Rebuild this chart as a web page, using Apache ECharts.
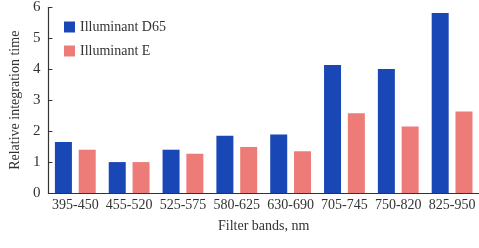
<!DOCTYPE html>
<html lang="en">
<head>
    <meta charset="UTF-8">
    <title>Relative integration time</title>
    <script src="https://cdn.jsdelivr.net/npm/echarts@6/dist/echarts.min.js"></script>
    <style>
        html, body { margin: 0; padding: 0; background: #fff; }
        #chart { width: 479px; height: 248px; }
    </style>
</head>
<body>
    <div id="chart"></div>
    <script>
        // filter bands and the two series
        const bands = ['395-450', '455-520', '525-575', '580-625', '630-690', '705-745', '750-820', '825-950'];
        const d65 = [1.65, 1.0, 1.40, 1.85, 1.89, 4.14, 4.01, 5.82];
        const illumE = [1.40, 1.0, 1.27, 1.49, 1.35, 2.58, 2.15, 2.64];
        const yTicks = [0, 1, 2, 3, 4, 5, 6];

        const font = 'Liberation Serif';
        const ink = '#333';

        const chart = echarts.init(document.getElementById('chart'));
        chart.setOption({
            animation: false,
            textStyle: { fontFamily: font },
            grid: { left: 37, right: 0, top: 6, bottom: 55 },
            legend: {
                orient: 'vertical',
                left: 59,
                top: 15,
                itemWidth: 11,
                itemHeight: 11,
                itemGap: 10,
                icon: 'rect',
                textStyle: { fontFamily: font, fontSize: 14, color: ink }
            },
            xAxis: {
                type: 'category',
                data: bands,
                name: 'Filter bands, nm',
                nameLocation: 'middle',
                nameGap: 26,
                nameTextStyle: { fontFamily: font, fontSize: 14, color: ink },
                axisLine: { lineStyle: { color: '#333', width: 1.2 } },
                axisTick: { inside: true, length: 5, lineStyle: { color: '#333' } },
                axisLabel: { fontFamily: font, fontSize: 14, color: ink, margin: 5, interval: 0 }
            },
            yAxis: {
                type: 'value',
                min: yTicks[0],
                max: yTicks[yTicks.length - 1],
                interval: 1,
                name: 'Relative integration time',
                nameLocation: 'middle',
                nameGap: 23,
                nameTextStyle: { fontFamily: font, fontSize: 14, color: ink },
                axisLine: { show: true, lineStyle: { color: '#333', width: 1.2 } },
                axisTick: { show: true, inside: true, length: 4, lineStyle: { color: '#333' } },
                axisLabel: { fontFamily: font, fontSize: 15, color: ink, margin: 8 },
                splitLine: { show: false }
            },
            series: [
                {
                    name: 'Illuminant D65',
                    type: 'bar',
                    data: d65,
                    barWidth: 17,
                    barGap: '40%',
                    itemStyle: { color: '#1a47b6' }
                },
                {
                    name: 'Illuminant E',
                    type: 'bar',
                    data: illumE,
                    barWidth: 17,
                    itemStyle: { color: '#ed7b78' }
                }
            ]
        });
    </script>
</body>
</html>
